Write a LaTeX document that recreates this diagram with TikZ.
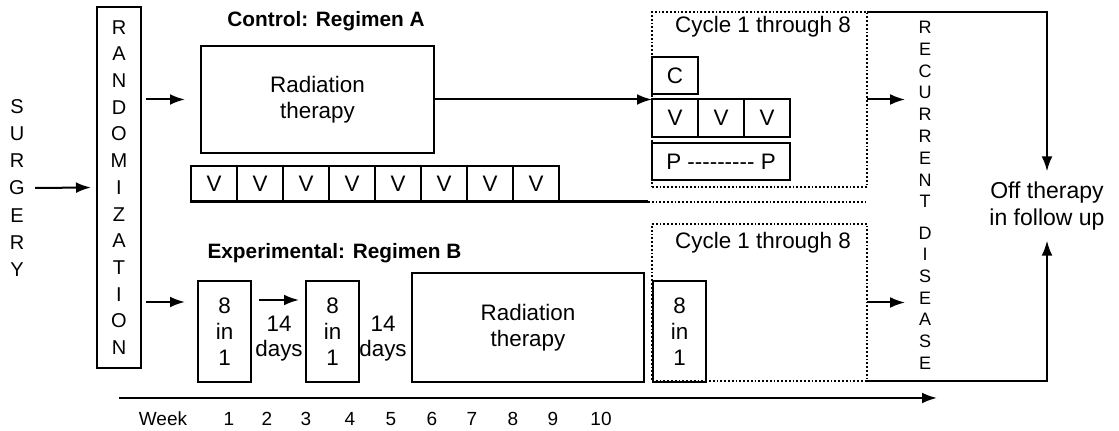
\documentclass[tikz,border=0pt]{standalone}
\usepackage{fontspec}
\setmainfont{Liberation Sans}
\usetikzlibrary{arrows.meta, positioning}

\begin{document}
\begin{tikzpicture}[
x=0.5pt, y=-0.5pt,
node distance=0pt,
box/.style={rectangle, draw=black, line width=1pt, outer sep=0pt, inner sep=0pt,
align=center, font=\fontsize{11.2}{13}\selectfont},
cellbox/.style={box, minimum width=23pt, minimum height=18.5pt},
inbox/.style={box, minimum width=26.5pt, minimum height=50.5pt},
cyclebox/.style={rectangle, draw=black, densely dotted, line width=0.9pt, outer sep=0pt,
inner sep=0pt, minimum width=107.5pt},
label/.style={align=center, inner sep=0pt, font=\fontsize{11.2}{12.5}\selectfont},
title/.style={inner sep=0pt, font=\fontsize{10.4}{12}\selectfont\bfseries},
letters/.style={align=center, inner sep=0pt, font=\fontsize{10}{13.6}\selectfont},
arrow/.style={-{Latex[length=7.5pt, width=5.4pt]}, line width=1pt}
]

\useasboundingbox (0,0) rectangle (1119,431);

% surgery and randomization
\node[letters] (surgery) at (17,188) {S\\U\\R\\G\\E\\R\\Y};
\node[box, letters, font=\fontsize{10}{13.35}\selectfont, minimum width=22pt, minimum height=180.5pt]
(rand) at (119,187.5) {R\\A\\N\\D\\O\\M\\I\\Z\\A\\T\\I\\O\\N};

\draw[arrow] ([xshift=5pt]surgery.east) -- ([xshift=-3pt]rand.west);

% control arm
\node[title] (ctltitle) at (326,21) {Control: Regimen A};
\node[box, anchor=north west, minimum width=116.5pt, minimum height=53.5pt] (rad1) at (201,46) {Radiation\\therapy};

\node[cellbox, anchor=north west, minimum height=18pt] (v1) at (191,166) {V};
\node[cellbox, minimum height=18pt, right=of v1] (v2) {V};
\node[cellbox, minimum height=18pt, right=of v2] (v3) {V};
\node[cellbox, minimum height=18pt, right=of v3] (v4) {V};
\node[cellbox, minimum height=18pt, right=of v4] (v5) {V};
\node[cellbox, minimum height=18pt, right=of v5] (v6) {V};
\node[cellbox, minimum height=18pt, right=of v6] (v7) {V};
\node[cellbox, minimum height=18pt, right=of v7] (v8) {V};

\node[cyclebox, anchor=north west, minimum height=87.5pt] (cyc1) at (652,12) {};
\node[label] (cyc1lab) at (763,27) {Cycle 1 through 8};
\node[cellbox, anchor=north west] (cc) at (652,57) {C};
\node[cellbox, anchor=north west, minimum height=19pt] (cv1) at (652,99) {V};
\node[cellbox, minimum height=19pt, right=of cv1] (cv2) {V};
\node[cellbox, minimum height=19pt, right=of cv2] (cv3) {V};
\node[cellbox, anchor=north west, minimum width=69pt] (cp) at (652,143) {P\ -{}-{}-{}-{}-{}-{}-{}-{}-\ P};

\coordinate (ctlend) at (648,202);
\draw[line width=1.5pt] (v1.south west) -- (ctlend);
\draw[densely dotted, line width=0.9pt] (ctlend) -- (ctlend -| cyc1.east);

\draw[arrow] ([xshift=2.5pt]rand.east |- rad1.west) -- ([xshift=-8pt]rad1.west);
\draw[arrow] (rad1.east) -- (rad1.east -| cyc1.west);

% experimental arm
\node[title] (exptitle) at (334.5,253) {Experimental: Regimen B};
\node[inbox, anchor=north west] (b1) at (198,281) {8\\in\\1};
\node[label] (days1) at (279,339) {14\\days};
\node[inbox, anchor=north west] (b2) at (306,281) {8\\in\\1};
\node[label] (days2) at (383,339) {14\\days};
\node[box, anchor=north west, minimum width=116pt, minimum height=54.5pt] (rad2) at (412,273) {Radiation\\therapy};

\node[cyclebox, anchor=north west, minimum height=78.5pt] (cyc2) at (652,224) {};
\node[label] (cyc2lab) at (763,243) {Cycle 1 through 8};
\node[inbox, anchor=north west] (b3) at (653,281) {8\\in\\1};

\draw[arrow] ([xshift=2.5pt, yshift=14.75pt]rand.east |- b1.west) -- ([xshift=-6.5pt, yshift=14.75pt]b1.west);
\draw[arrow] ([xshift=4pt, yshift=15.75pt]b1.east) -- ([xshift=-3.5pt, yshift=15.75pt]b2.west);

% recurrent disease and follow up
\node[letters, font=\fontsize{9}{10.9}\selectfont] (recur) at (925,114.5) {R\\E\\C\\U\\R\\R\\E\\N\\T};
\node[letters, font=\fontsize{9}{10.85}\selectfont] (disease) at (925,298) {D\\I\\S\\E\\A\\S\\E};
\node[label, font=\fontsize{11.5}{13.5}\selectfont, inner sep=5pt] (off) at (1047,206) {Off therapy\\in follow up};

\draw[arrow] (cyc1.east) -- ([xshift=-6.5pt]recur.west |- cyc1.east);
\draw[arrow] (cyc2.east) -- ([xshift=-6.5pt]disease.west |- cyc2.east);
\draw[arrow] (cyc1.north east) -| (off.north);
\draw[arrow] (cyc2.south east) -| (off.south);

% week axis
\coordinate (wk0) at (119,398);
\coordinate (wk1) at (937,398);
\draw[arrow] (wk0) -- (wk1);
\node[label, font=\fontsize{9.5}{11}\selectfont] (week) at (163,419) {Week};
\foreach \n/\x in {1/229, 2/267, 3/306, 4/350, 5/391, 6/432, 7/472, 8/513, 9/553, 10/601}
\node[label, font=\fontsize{9.5}{11}\selectfont] (w\n) at (\x,419) {\n};

\end{tikzpicture}
\end{document}
